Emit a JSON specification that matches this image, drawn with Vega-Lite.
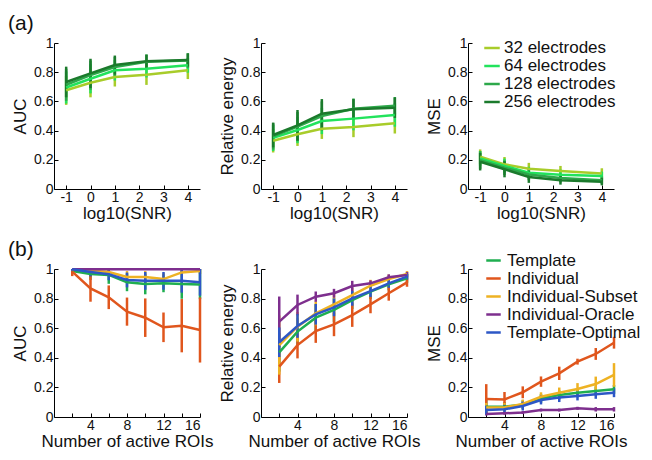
{
  "$schema": "https://vega.github.io/schema/vega-lite/v6.json",
  "background": "white",
  "padding": {"left": 8, "top": 13, "right": 0, "bottom": 0},
  "config": {
    "font": "Liberation Sans",
    "view": {"stroke": null},
    "axis": {
      "grid": false, "domainColor": "#000", "domainWidth": 1, "tickColor": "#000", "tickSize": -4, "tickWidth": 1,
      "labelFont": "Liberation Sans", "labelFontSize": 14, "labelColor": "#111", "labelPadding": 5,
      "titleFont": "Liberation Sans", "titleFontSize": 17, "titleFontWeight": "normal", "titleColor": "#111"
    },
    "axisY": {"titlePadding": 4},
    "axisX": {"titlePadding": 1},
    "legend": {"labelFont": "Liberation Sans", "labelColor": "#111"},
    "title": {"font": "Liberation Sans", "fontWeight": "normal", "color": "#111"}
  },
  "datasets": {
    "a1": [
      {"s":"32 electrodes","x":-1,"v":0.676,"e":0.10},{"s":"32 electrodes","x":0,"v":0.728,"e":0.10},{"s":"32 electrodes","x":1,"v":0.767,"e":0.065},{"s":"32 electrodes","x":2.3,"v":0.783,"e":0.07},{"s":"32 electrodes","x":4,"v":0.813,"e":0.06},
      {"s":"64 electrodes","x":-1,"v":0.695,"e":0.11},{"s":"64 electrodes","x":0,"v":0.755,"e":0.10},{"s":"64 electrodes","x":1,"v":0.813,"e":0.07},{"s":"64 electrodes","x":2.3,"v":0.824,"e":0.06},{"s":"64 electrodes","x":4,"v":0.847,"e":0.05},
      {"s":"128 electrodes","x":-1,"v":0.714,"e":0.11},{"s":"128 electrodes","x":0,"v":0.780,"e":0.10},{"s":"128 electrodes","x":1,"v":0.835,"e":0.07},{"s":"128 electrodes","x":2.3,"v":0.872,"e":0.05},{"s":"128 electrodes","x":4,"v":0.880,"e":0.05},
      {"s":"256 electrodes","x":-1,"v":0.733,"e":0.105},{"s":"256 electrodes","x":0,"v":0.792,"e":0.10},{"s":"256 electrodes","x":1,"v":0.849,"e":0.065},{"s":"256 electrodes","x":2.3,"v":0.875,"e":0.045},{"s":"256 electrodes","x":4,"v":0.884,"e":0.045}
    ],
    "a2": [
      {"s":"32 electrodes","x":-1,"v":0.330,"e":0.08},{"s":"32 electrodes","x":0,"v":0.375,"e":0.08},{"s":"32 electrodes","x":1,"v":0.413,"e":0.07},{"s":"32 electrodes","x":2.3,"v":0.425,"e":0.07},{"s":"32 electrodes","x":4,"v":0.450,"e":0.07},
      {"s":"64 electrodes","x":-1,"v":0.350,"e":0.09},{"s":"64 electrodes","x":0,"v":0.404,"e":0.09},{"s":"64 electrodes","x":1,"v":0.466,"e":0.09},{"s":"64 electrodes","x":2.3,"v":0.482,"e":0.08},{"s":"64 electrodes","x":4,"v":0.507,"e":0.08},
      {"s":"128 electrodes","x":-1,"v":0.360,"e":0.09},{"s":"128 electrodes","x":0,"v":0.427,"e":0.10},{"s":"128 electrodes","x":1,"v":0.500,"e":0.10},{"s":"128 electrodes","x":2.3,"v":0.550,"e":0.07},{"s":"128 electrodes","x":4,"v":0.570,"e":0.06},
      {"s":"256 electrodes","x":-1,"v":0.370,"e":0.085},{"s":"256 electrodes","x":0,"v":0.436,"e":0.105},{"s":"256 electrodes","x":1,"v":0.516,"e":0.10},{"s":"256 electrodes","x":2.3,"v":0.546,"e":0.07},{"s":"256 electrodes","x":4,"v":0.557,"e":0.07}
    ],
    "a3": [
      {"s":"32 electrodes","x":-1,"v":0.221,"e":0.05},{"s":"32 electrodes","x":0,"v":0.169,"e":0.05},{"s":"32 electrodes","x":1,"v":0.139,"e":0.04},{"s":"32 electrodes","x":2.3,"v":0.123,"e":0.035},{"s":"32 electrodes","x":4,"v":0.107,"e":0.035},
      {"s":"64 electrodes","x":-1,"v":0.210,"e":0.05},{"s":"64 electrodes","x":0,"v":0.158,"e":0.05},{"s":"64 electrodes","x":1,"v":0.112,"e":0.04},{"s":"64 electrodes","x":2.3,"v":0.098,"e":0.035},{"s":"64 electrodes","x":4,"v":0.089,"e":0.03},
      {"s":"128 electrodes","x":-1,"v":0.198,"e":0.06},{"s":"128 electrodes","x":0,"v":0.146,"e":0.05},{"s":"128 electrodes","x":1,"v":0.100,"e":0.04},{"s":"128 electrodes","x":2.3,"v":0.075,"e":0.03},{"s":"128 electrodes","x":4,"v":0.060,"e":0.025},
      {"s":"256 electrodes","x":-1,"v":0.187,"e":0.06},{"s":"256 electrodes","x":0,"v":0.135,"e":0.055},{"s":"256 electrodes","x":1,"v":0.082,"e":0.04},{"s":"256 electrodes","x":2.3,"v":0.060,"e":0.03},{"s":"256 electrodes","x":4,"v":0.050,"e":0.025}
    ],
    "b1": [
      {"s":"Template","x":2,"v":0.986,"e":0.02},{"s":"Template","x":4,"v":0.966,"e":0.04},{"s":"Template","x":6,"v":0.960,"e":0.06},{"s":"Template","x":8,"v":0.910,"e":0.06},{"s":"Template","x":10,"v":0.899,"e":0.07},{"s":"Template","x":12,"v":0.903,"e":0.06},{"s":"Template","x":14,"v":0.899,"e":0.10},{"s":"Template","x":16,"v":0.896,"e":0.10},
      {"s":"Individual","x":2,"v":0.982,"e":0.03},{"s":"Individual","x":4,"v":0.869,"e":0.09},{"s":"Individual","x":6,"v":0.809,"e":0.08},{"s":"Individual","x":8,"v":0.712,"e":0.095},{"s":"Individual","x":10,"v":0.671,"e":0.13},{"s":"Individual","x":12,"v":0.606,"e":0.10},{"s":"Individual","x":14,"v":0.617,"e":0.18},{"s":"Individual","x":16,"v":0.588,"e":0.22},
      {"s":"Individual-Subset","x":2,"v":0.999,"e":0.01},{"s":"Individual-Subset","x":4,"v":0.990,"e":0.02},{"s":"Individual-Subset","x":6,"v":0.980,"e":0.03},{"s":"Individual-Subset","x":8,"v":0.946,"e":0.04},{"s":"Individual-Subset","x":10,"v":0.946,"e":0.04},{"s":"Individual-Subset","x":12,"v":0.932,"e":0.04},{"s":"Individual-Subset","x":14,"v":0.977,"e":0.03},{"s":"Individual-Subset","x":16,"v":0.986,"e":0.02},
      {"s":"Individual-Oracle","x":2,"v":0.998,"e":0.002},{"s":"Individual-Oracle","x":4,"v":0.998,"e":0.002},{"s":"Individual-Oracle","x":6,"v":0.998,"e":0.002},{"s":"Individual-Oracle","x":8,"v":0.998,"e":0.002},{"s":"Individual-Oracle","x":10,"v":0.998,"e":0.002},{"s":"Individual-Oracle","x":12,"v":0.998,"e":0.002},{"s":"Individual-Oracle","x":14,"v":0.998,"e":0.002},{"s":"Individual-Oracle","x":16,"v":0.998,"e":0.002},
      {"s":"Template-Optimal","x":2,"v":0.998,"e":0.01},{"s":"Template-Optimal","x":4,"v":0.980,"e":0.03},{"s":"Template-Optimal","x":6,"v":0.964,"e":0.04},{"s":"Template-Optimal","x":8,"v":0.926,"e":0.05},{"s":"Template-Optimal","x":10,"v":0.920,"e":0.06},{"s":"Template-Optimal","x":12,"v":0.920,"e":0.06},{"s":"Template-Optimal","x":14,"v":0.920,"e":0.08},{"s":"Template-Optimal","x":16,"v":0.910,"e":0.09}
    ],
    "b2": [
      {"s":"Template","x":2,"v":0.437,"e":0.13},{"s":"Template","x":4,"v":0.577,"e":0.09},{"s":"Template","x":6,"v":0.671,"e":0.09},{"s":"Template","x":8,"v":0.723,"e":0.08},{"s":"Template","x":10,"v":0.790,"e":0.06},{"s":"Template","x":12,"v":0.847,"e":0.05},{"s":"Template","x":14,"v":0.896,"e":0.04},{"s":"Template","x":16,"v":0.937,"e":0.03},
      {"s":"Individual","x":2,"v":0.340,"e":0.11},{"s":"Individual","x":4,"v":0.486,"e":0.09},{"s":"Individual","x":6,"v":0.581,"e":0.08},{"s":"Individual","x":8,"v":0.626,"e":0.08},{"s":"Individual","x":10,"v":0.689,"e":0.08},{"s":"Individual","x":12,"v":0.761,"e":0.06},{"s":"Individual","x":14,"v":0.836,"e":0.05},{"s":"Individual","x":16,"v":0.910,"e":0.03},
      {"s":"Individual-Subset","x":2,"v":0.486,"e":0.2},{"s":"Individual-Subset","x":4,"v":0.610,"e":0.1},{"s":"Individual-Subset","x":6,"v":0.700,"e":0.08},{"s":"Individual-Subset","x":8,"v":0.761,"e":0.07},{"s":"Individual-Subset","x":10,"v":0.824,"e":0.05},{"s":"Individual-Subset","x":12,"v":0.887,"e":0.04},{"s":"Individual-Subset","x":14,"v":0.932,"e":0.03},{"s":"Individual-Subset","x":16,"v":0.966,"e":0.02},
      {"s":"Individual-Oracle","x":2,"v":0.644,"e":0.17},{"s":"Individual-Oracle","x":4,"v":0.757,"e":0.07},{"s":"Individual-Oracle","x":6,"v":0.813,"e":0.035},{"s":"Individual-Oracle","x":8,"v":0.836,"e":0.03},{"s":"Individual-Oracle","x":10,"v":0.885,"e":0.035},{"s":"Individual-Oracle","x":12,"v":0.903,"e":0.02},{"s":"Individual-Oracle","x":14,"v":0.944,"e":0.02},{"s":"Individual-Oracle","x":16,"v":0.960,"e":0.02},
      {"s":"Template-Optimal","x":2,"v":0.505,"e":0.1},{"s":"Template-Optimal","x":4,"v":0.615,"e":0.08},{"s":"Template-Optimal","x":6,"v":0.694,"e":0.07},{"s":"Template-Optimal","x":8,"v":0.741,"e":0.06},{"s":"Template-Optimal","x":10,"v":0.802,"e":0.05},{"s":"Template-Optimal","x":12,"v":0.851,"e":0.04},{"s":"Template-Optimal","x":14,"v":0.903,"e":0.03},{"s":"Template-Optimal","x":16,"v":0.948,"e":0.02}
    ],
    "b3": [
      {"s":"Template","x":2,"v":0.070,"e":0.05},{"s":"Template","x":4,"v":0.070,"e":0.03},{"s":"Template","x":6,"v":0.083,"e":0.03},{"s":"Template","x":8,"v":0.126,"e":0.03},{"s":"Template","x":10,"v":0.149,"e":0.03},{"s":"Template","x":12,"v":0.164,"e":0.03},{"s":"Template","x":14,"v":0.176,"e":0.03},{"s":"Template","x":16,"v":0.187,"e":0.03},
      {"s":"Individual","x":2,"v":0.122,"e":0.10},{"s":"Individual","x":4,"v":0.119,"e":0.05},{"s":"Individual","x":6,"v":0.167,"e":0.04},{"s":"Individual","x":8,"v":0.239,"e":0.035},{"s":"Individual","x":10,"v":0.295,"e":0.045},{"s":"Individual","x":12,"v":0.374,"e":0.02},{"s":"Individual","x":14,"v":0.426,"e":0.04},{"s":"Individual","x":16,"v":0.502,"e":0.04},
      {"s":"Individual-Subset","x":2,"v":0.065,"e":0.03},{"s":"Individual-Subset","x":4,"v":0.065,"e":0.03},{"s":"Individual-Subset","x":6,"v":0.088,"e":0.03},{"s":"Individual-Subset","x":8,"v":0.137,"e":0.03},{"s":"Individual-Subset","x":10,"v":0.164,"e":0.035},{"s":"Individual-Subset","x":12,"v":0.189,"e":0.04},{"s":"Individual-Subset","x":14,"v":0.223,"e":0.05},{"s":"Individual-Subset","x":16,"v":0.284,"e":0.08},
      {"s":"Individual-Oracle","x":2,"v":0.020,"e":0.01},{"s":"Individual-Oracle","x":4,"v":0.025,"e":0.01},{"s":"Individual-Oracle","x":6,"v":0.030,"e":0.01},{"s":"Individual-Oracle","x":8,"v":0.047,"e":0.01},{"s":"Individual-Oracle","x":10,"v":0.047,"e":0.01},{"s":"Individual-Oracle","x":12,"v":0.059,"e":0.01},{"s":"Individual-Oracle","x":14,"v":0.052,"e":0.015},{"s":"Individual-Oracle","x":16,"v":0.052,"e":0.015},
      {"s":"Template-Optimal","x":2,"v":0.047,"e":0.03},{"s":"Template-Optimal","x":4,"v":0.052,"e":0.03},{"s":"Template-Optimal","x":6,"v":0.074,"e":0.03},{"s":"Template-Optimal","x":8,"v":0.115,"e":0.03},{"s":"Template-Optimal","x":10,"v":0.131,"e":0.03},{"s":"Template-Optimal","x":12,"v":0.142,"e":0.03},{"s":"Template-Optimal","x":14,"v":0.153,"e":0.03},{"s":"Template-Optimal","x":16,"v":0.164,"e":0.03}
    ]
  },
  "columns": 3,
  "spacing": {"row": 80, "column": 61},
  "bounds": "flush",
  "resolve": {"scale": {"color": "independent", "x": "independent", "y": "independent"}, "legend": {"color": "independent"}},
  "concat": [
    {
      "width": 146, "height": 146,
      "data": {"name": "a1"},
      "title": {"text": "(a)", "anchor": "start", "frame": "group", "fontSize": 21, "dx": -46, "offset": 2},
      "encoding": {
        "x": {"field": "x", "type": "quantitative", "scale": {"domain": [-1.5, 4.5], "nice": false, "zero": false}, "axis": {"title": "log10(SNR)", "values": [-1, 0, 1, 2, 3, 4], "labelExpr": "'' + datum.value"}},
        "y": {"field": "v", "type": "quantitative", "scale": {"domain": [0, 1], "nice": false, "clamp": true}, "axis": {"title": "AUC", "values": [0, 0.2, 0.4, 0.6, 0.8, 1], "labelExpr": "'' + datum.value"}},
        "color": {"field": "s", "type": "nominal", "scale": {"domain": ["32 electrodes", "64 electrodes", "128 electrodes", "256 electrodes"], "range": ["#a8cc2a", "#22e35c", "#2da84a", "#1b7a2c"]}, "legend": null}
      },
      "layer": [
        {"mark": {"type": "errorbar", "thickness": 2.5}, "encoding": {"yError": {"field": "e"}}},
        {"mark": {"type": "line", "strokeWidth": 2.5}}
      ]
    },
    {
      "width": 146, "height": 146,
      "data": {"name": "a2"},
      "encoding": {
        "x": {"field": "x", "type": "quantitative", "scale": {"domain": [-1.5, 4.5], "nice": false, "zero": false}, "axis": {"title": "log10(SNR)", "values": [-1, 0, 1, 2, 3, 4], "labelExpr": "'' + datum.value"}},
        "y": {"field": "v", "type": "quantitative", "scale": {"domain": [0, 1], "nice": false, "clamp": true}, "axis": {"title": "Relative energy", "values": [0, 0.2, 0.4, 0.6, 0.8, 1], "labelExpr": "'' + datum.value"}},
        "color": {"field": "s", "type": "nominal", "scale": {"domain": ["32 electrodes", "64 electrodes", "128 electrodes", "256 electrodes"], "range": ["#a8cc2a", "#22e35c", "#2da84a", "#1b7a2c"]}, "legend": null}
      },
      "layer": [
        {"mark": {"type": "errorbar", "thickness": 2.5}, "encoding": {"yError": {"field": "e"}}},
        {"mark": {"type": "line", "strokeWidth": 2.5}}
      ]
    },
    {
      "width": 146, "height": 146,
      "data": {"name": "a3"},
      "encoding": {
        "x": {"field": "x", "type": "quantitative", "scale": {"domain": [-1.5, 4.5], "nice": false, "zero": false}, "axis": {"title": "log10(SNR)", "values": [-1, 0, 1, 2, 3, 4], "labelExpr": "'' + datum.value"}},
        "y": {"field": "v", "type": "quantitative", "scale": {"domain": [0, 1], "nice": false, "clamp": true}, "axis": {"title": "MSE", "values": [0, 0.2, 0.4, 0.6, 0.8, 1], "labelExpr": "'' + datum.value"}},
        "color": {"field": "s", "type": "nominal", "scale": {"domain": ["32 electrodes", "64 electrodes", "128 electrodes", "256 electrodes"], "range": ["#a8cc2a", "#22e35c", "#2da84a", "#1b7a2c"]},
          "legend": {"orient": "none", "legendX": 15, "legendY": -4, "title": null, "symbolType": "stroke", "symbolStrokeWidth": 2.5, "symbolSize": 240, "labelFontSize": 17, "rowPadding": 1, "labelOffset": 3}}
      },
      "layer": [
        {"mark": {"type": "errorbar", "thickness": 2.5}, "encoding": {"yError": {"field": "e"}}},
        {"mark": {"type": "line", "strokeWidth": 2.5}}
      ]
    },
    {
      "width": 146, "height": 148,
      "data": {"name": "b1"},
      "title": {"text": "(b)", "anchor": "start", "frame": "group", "fontSize": 21, "dx": -46, "offset": 2},
      "encoding": {
        "x": {"field": "x", "type": "quantitative", "scale": {"domain": [0, 16], "nice": false, "zero": false}, "axis": {"title": "Number of active ROIs", "values": [2, 4, 6, 8, 10, 12, 14, 16], "labelExpr": "datum.value % 4 == 0 ? '' + datum.value : ''"}},
        "y": {"field": "v", "type": "quantitative", "scale": {"domain": [0, 1], "nice": false, "clamp": true}, "axis": {"title": "AUC", "values": [0, 0.2, 0.4, 0.6, 0.8, 1], "labelExpr": "'' + datum.value"}},
        "color": {"field": "s", "type": "nominal", "scale": {"domain": ["Template", "Individual", "Individual-Subset", "Individual-Oracle", "Template-Optimal"], "range": ["#1fae50", "#e0561d", "#eeb223", "#7e2f8e", "#2d57c6"]}, "legend": null}
      },
      "layer": [
        {"mark": {"type": "errorbar", "thickness": 2.5}, "encoding": {"yError": {"field": "e"}}},
        {"mark": {"type": "line", "strokeWidth": 2.5}}
      ]
    },
    {
      "width": 146, "height": 148,
      "data": {"name": "b2"},
      "encoding": {
        "x": {"field": "x", "type": "quantitative", "scale": {"domain": [0, 16], "nice": false, "zero": false}, "axis": {"title": "Number of active ROIs", "values": [2, 4, 6, 8, 10, 12, 14, 16], "labelExpr": "datum.value % 4 == 0 ? '' + datum.value : ''"}},
        "y": {"field": "v", "type": "quantitative", "scale": {"domain": [0, 1], "nice": false, "clamp": true}, "axis": {"title": "Relative energy", "values": [0, 0.2, 0.4, 0.6, 0.8, 1], "labelExpr": "'' + datum.value"}},
        "color": {"field": "s", "type": "nominal", "scale": {"domain": ["Template", "Individual", "Individual-Subset", "Individual-Oracle", "Template-Optimal"], "range": ["#1fae50", "#e0561d", "#eeb223", "#7e2f8e", "#2d57c6"]}, "legend": null}
      },
      "layer": [
        {"mark": {"type": "errorbar", "thickness": 2.5}, "encoding": {"yError": {"field": "e"}}},
        {"mark": {"type": "line", "strokeWidth": 2.5}}
      ]
    },
    {
      "width": 146, "height": 148,
      "data": {"name": "b3"},
      "encoding": {
        "x": {"field": "x", "type": "quantitative", "scale": {"domain": [0, 16], "nice": false, "zero": false}, "axis": {"title": "Number of active ROIs", "values": [2, 4, 6, 8, 10, 12, 14, 16], "labelExpr": "datum.value % 4 == 0 ? '' + datum.value : ''"}},
        "y": {"field": "v", "type": "quantitative", "scale": {"domain": [0, 1], "nice": false, "clamp": true}, "axis": {"title": "MSE", "values": [0, 0.2, 0.4, 0.6, 0.8, 1], "labelExpr": "'' + datum.value"}},
        "color": {"field": "s", "type": "nominal", "scale": {"domain": ["Template", "Individual", "Individual-Subset", "Individual-Oracle", "Template-Optimal"], "range": ["#1fae50", "#e0561d", "#eeb223", "#7e2f8e", "#2d57c6"]},
          "legend": {"orient": "none", "legendX": 17, "legendY": -17, "title": null, "symbolType": "stroke", "symbolStrokeWidth": 2.5, "symbolSize": 210, "labelFontSize": 17, "rowPadding": 0, "labelOffset": 5}}
      },
      "layer": [
        {"mark": {"type": "errorbar", "thickness": 2.5}, "encoding": {"yError": {"field": "e"}}},
        {"mark": {"type": "line", "strokeWidth": 2.5}}
      ]
    }
  ]
}
